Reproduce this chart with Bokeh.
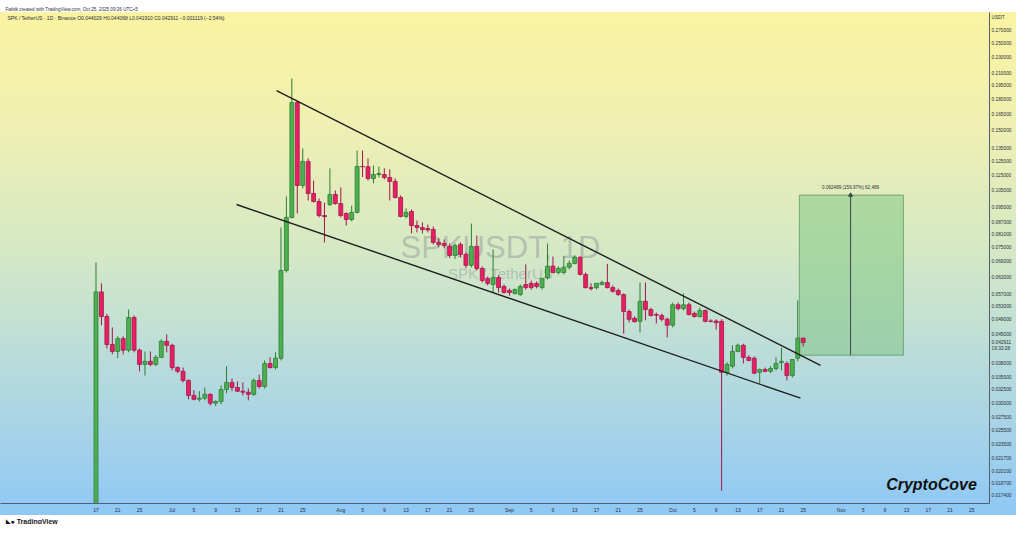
import pandas as pd
from bokeh.plotting import figure
from bokeh.models import (FixedTicker, PrintfTickFormatter, Label, ColumnDataSource, Range1d, Title)
from bokeh.embed import file_html
from bokeh.resources import INLINE

# ---------------- data ----------------
start_date = "2025-06-17"
opens = [0.0160, 0.0578, 0.0500, 0.0424, 0.0407, 0.0439, 0.0410, 0.0497, 0.0410, 0.0377,
         0.0384, 0.0377, 0.0393, 0.0432, 0.0422, 0.0370, 0.0362, 0.0343, 0.0314, 0.0307,
         0.0309, 0.0316, 0.0300, 0.0303, 0.0325, 0.0339, 0.0329, 0.0322, 0.0320, 0.0316,
         0.0343, 0.0331, 0.0379, 0.0370, 0.0391, 0.0656, 0.0897, 0.1766, 0.1083, 0.1248,
         0.1033, 0.0985, 0.0907, 0.0967, 0.1027, 0.0973, 0.0918, 0.0886, 0.0924, 0.1211,
         0.1209, 0.1128, 0.1155, 0.1155, 0.1135, 0.1109, 0.1009, 0.0902, 0.0929, 0.0855,
         0.0845, 0.0840, 0.0835, 0.0774, 0.0769, 0.0756, 0.0717, 0.0765, 0.0721, 0.0676,
         0.0756, 0.0664, 0.0626, 0.0604, 0.0629, 0.0597, 0.0583, 0.0573, 0.0569, 0.0604,
         0.0608, 0.0608, 0.0593, 0.0629, 0.0673, 0.0648, 0.0648, 0.0669, 0.0684, 0.0709,
         0.0641, 0.0593, 0.0593, 0.0604, 0.0611, 0.0593, 0.0583, 0.0569, 0.0515, 0.0495,
         0.0486, 0.0547, 0.0521, 0.0506, 0.0503, 0.0492, 0.0475, 0.0536, 0.0524, 0.0536,
         0.0509, 0.0500, 0.0518, 0.0487, 0.0487, 0.0486, 0.0359, 0.0373, 0.0407, 0.0422,
         0.0393, 0.0391, 0.0360, 0.0366, 0.0362, 0.0368, 0.0381, 0.0379, 0.0353, 0.0391,
         0.044029]
highs = [0.0688, 0.0608, 0.0508, 0.0469, 0.0445, 0.0445, 0.0521, 0.0503, 0.0414, 0.0407,
         0.0407, 0.0398, 0.0437, 0.0450, 0.0426, 0.0373, 0.0370, 0.0345, 0.0324, 0.0322,
         0.0329, 0.0318, 0.0305, 0.0333, 0.0373, 0.0347, 0.0341, 0.0339, 0.0327, 0.0347,
         0.0355, 0.0386, 0.0393, 0.0405, 0.0845, 0.1015, 0.2035, 0.1787, 0.1347, 0.1270,
         0.1115, 0.1003, 0.0979, 0.1198, 0.1051, 0.1070, 0.0924, 0.0961, 0.1331, 0.1331,
         0.1270, 0.1218, 0.1211, 0.1198, 0.1190, 0.1128, 0.1021, 0.0946, 0.0940, 0.0881,
         0.0871, 0.0860, 0.0850, 0.0793, 0.0788, 0.0769, 0.0769, 0.0774, 0.0730, 0.0865,
         0.0806, 0.0672, 0.0633, 0.0743, 0.0637, 0.0604, 0.0590, 0.0590, 0.0604, 0.0680,
         0.0618, 0.0615, 0.0626, 0.0769, 0.0712, 0.0672, 0.0713, 0.0696, 0.0717, 0.0713,
         0.0648, 0.0608, 0.0608, 0.0618, 0.0682, 0.0601, 0.0590, 0.0573, 0.0521, 0.0500,
         0.0611, 0.0611, 0.0527, 0.0512, 0.0509, 0.0497, 0.0543, 0.0543, 0.0573, 0.0543,
         0.0515, 0.0527, 0.0521, 0.0492, 0.0492, 0.0492, 0.0382, 0.0422, 0.0426, 0.0426,
         0.0398, 0.0395, 0.0368, 0.0370, 0.0373, 0.0393, 0.0416, 0.0384, 0.0388, 0.0550,
         0.044068]
lows = [0.0155, 0.0475, 0.0414, 0.0400, 0.0391, 0.0400, 0.0405, 0.0405, 0.0362, 0.0353,
        0.0373, 0.0373, 0.0392, 0.0405, 0.0364, 0.0358, 0.0339, 0.0307, 0.0305, 0.0303,
        0.0305, 0.0296, 0.0295, 0.0298, 0.0318, 0.0322, 0.0320, 0.0314, 0.0305, 0.0313,
        0.0327, 0.0327, 0.0368, 0.0366, 0.0386, 0.0648, 0.0892, 0.0918, 0.1064, 0.0991,
        0.0979, 0.0897, 0.0774, 0.0960, 0.0967, 0.0897, 0.0855, 0.0876, 0.0918, 0.1138,
        0.1115, 0.1096, 0.1135, 0.1122, 0.0991, 0.1003, 0.0897, 0.0892, 0.0816, 0.0821,
        0.0816, 0.0821, 0.0765, 0.0752, 0.0747, 0.0706, 0.0702, 0.0710, 0.0664, 0.0668,
        0.0656, 0.0611, 0.0601, 0.0576, 0.0576, 0.0573, 0.0565, 0.0569, 0.0565, 0.0586,
        0.0586, 0.0590, 0.0586, 0.0622, 0.0645, 0.0641, 0.0641, 0.0660, 0.0680, 0.0637,
        0.0590, 0.0583, 0.0586, 0.0601, 0.0590, 0.0576, 0.0565, 0.0452, 0.0483, 0.0483,
        0.0455, 0.0489, 0.0500, 0.0480, 0.0486, 0.0442, 0.0469, 0.0518, 0.0518, 0.0503,
        0.0497, 0.0497, 0.0483, 0.0483, 0.0463, 0.0179, 0.0353, 0.0368, 0.0405, 0.0379,
        0.0384, 0.0356, 0.0337, 0.0360, 0.0358, 0.0364, 0.0364, 0.0343, 0.0349, 0.0384,
        0.041910]
closes = [0.0578, 0.0500, 0.0424, 0.0407, 0.0439, 0.0410, 0.0497, 0.0410, 0.0377, 0.0384,
          0.0377, 0.0393, 0.0432, 0.0422, 0.0370, 0.0362, 0.0343, 0.0314, 0.0307, 0.0309,
          0.0316, 0.0300, 0.0303, 0.0325, 0.0339, 0.0329, 0.0322, 0.0320, 0.0316, 0.0343,
          0.0331, 0.0379, 0.0370, 0.0391, 0.0656, 0.0897, 0.1766, 0.1083, 0.1248, 0.1033,
          0.0985, 0.0907, 0.0901, 0.1027, 0.0973, 0.0907, 0.0886, 0.0924, 0.1211, 0.1209,
          0.1128, 0.1155, 0.1162, 0.1135, 0.1109, 0.1009, 0.0902, 0.0924, 0.0855, 0.0845,
          0.0835, 0.0833, 0.0774, 0.0765, 0.0760, 0.0717, 0.0760, 0.0721, 0.0676, 0.0756,
          0.0664, 0.0618, 0.0608, 0.0629, 0.0593, 0.0576, 0.0576, 0.0586, 0.0597, 0.0593,
          0.0593, 0.0597, 0.0626, 0.0673, 0.0648, 0.0664, 0.0669, 0.0684, 0.0709, 0.0641,
          0.0593, 0.0590, 0.0608, 0.0611, 0.0593, 0.0580, 0.0569, 0.0515, 0.0492, 0.0485,
          0.0547, 0.0521, 0.0503, 0.0504, 0.0492, 0.0475, 0.0536, 0.0524, 0.0536, 0.0506,
          0.0500, 0.0518, 0.0486, 0.0486, 0.0482, 0.0360, 0.0377, 0.0407, 0.0422, 0.0393,
          0.0386, 0.0358, 0.0366, 0.0362, 0.0368, 0.0379, 0.0384, 0.0353, 0.0388, 0.0440,
          0.042911]

upper_line_dates = ["2025-07-20 04:20", "2025-10-28 04:20"]
upper_line_prices = [0.1895, 0.0375]
lower_line_dates = ["2025-07-12 20:00", "2025-10-24 12:00"]
lower_line_prices = [0.0968, 0.0309]

target_start = "2025-10-24 07:00"
target_end = "2025-11-12 10:00"
target_mid = "2025-11-02 17:00"
target_low = 0.03981
target_high = 0.102299
target_text = "0.062489 (156.97%) 62,489"

x_tick_dates = ["2025-06-17", "2025-06-21", "2025-06-25", "2025-07-01", "2025-07-05", "2025-07-09",
                "2025-07-13", "2025-07-17", "2025-07-21", "2025-07-25", "2025-08-01", "2025-08-05",
                "2025-08-09", "2025-08-13", "2025-08-17", "2025-08-21", "2025-08-25", "2025-09-01",
                "2025-09-05", "2025-09-09", "2025-09-13", "2025-09-17", "2025-09-21", "2025-09-25",
                "2025-10-01", "2025-10-05", "2025-10-09", "2025-10-13", "2025-10-17", "2025-10-21",
                "2025-10-25", "2025-11-01", "2025-11-05", "2025-11-09", "2025-11-13", "2025-11-17",
                "2025-11-21", "2025-11-25"]
x_tick_labels = ["17", "21", "25", "Jul", "5", "9", "13", "17", "21", "25", "Aug", "5", "9", "13",
                 "17", "21", "25", "Sep", "5", "9", "13", "17", "21", "25", "Oct", "5", "9", "13",
                 "17", "21", "25", "Nov", "5", "9", "13", "17", "21", "25"]
y_ticks = [0.27, 0.25, 0.23, 0.21, 0.195, 0.18, 0.165, 0.15, 0.135, 0.125, 0.115, 0.105, 0.095,
           0.087, 0.081, 0.075, 0.069, 0.063, 0.057, 0.053, 0.049, 0.045, 0.038, 0.035, 0.0325,
           0.03, 0.0275, 0.0255, 0.0235, 0.0217, 0.0201, 0.0187, 0.0174]
# extra right-scale tags: currency tag, last price and bar countdown
scale_tag_prices = [0.2915, 0.042911, 0.04140]
scale_tag_texts = ["USDT", "0.042911", "19:33:28"]

header_text = ("SPK / TetherUS \u00b7 1D \u00b7 Binance   O0.044029  H0.044068  L0.041910  "
               "C0.042911  \u22120.001119 (\u22122.54%)")
created_text = "Fatbik created with TradingView.com, Oct 25, 2025 09:26 UTC+5"
brand_text = "\u25e3\u25cf TradingView"

# ---------------- styling ----------------
UP_FILL, UP_LINE = "#4caf50", "#2e7d32"
DN_FILL, DN_LINE = "#e91e63", "#a3164a"
FONT = "Liberation Sans"
DAY_MS = 86400000.0

def ms(s):
    return pd.Timestamp(s).value / 1e6

dates = pd.date_range(start_date, periods=len(opens), freq="D")
up = [c >= o for o, c in zip(opens, closes)]
src = ColumnDataSource(dict(
    date=dates, high=highs, low=lows,
    top=[max(o, c) for o, c in zip(opens, closes)],
    bottom=[min(o, c) for o, c in zip(opens, closes)],
    fill=[UP_FILL if u else DN_FILL for u in up],
    line=[UP_LINE if u else DN_LINE for u in up],
))

t0 = ms(start_date)
x_start = t0 - 17.555 * DAY_MS
x_end = t0 + 164.246 * DAY_MS

gradient = ("linear-gradient(to bottom, #ffffff 0px, #ffffff 12px, #faf3a1 12px, #eff0b2 125px, "
            "#d4e8c6 255px, #b3d9df 385px, #93caf3 500px, #8fc8f5 515px, #ffffff 515px)")

p = figure(width=1016, height=524, x_axis_type="datetime", y_axis_type="log",
           x_range=Range1d(x_start, x_end), y_range=Range1d(0.016603, 0.30024),
           y_axis_location="right", output_backend="svg", toolbar_location=None,
           min_border_left=0, min_border_right=27, min_border_top=12, min_border_bottom=21,
           background_fill_alpha=0, border_fill_alpha=0, outline_line_color=None,
           styles={"background": gradient})
p.grid.visible = False

# top credit line as the plot title
p.title.text = created_text
p.title.align = "left"
p.title.offset = 5
p.title.standoff = 0
p.title.text_font = FONT
p.title.text_font_size = "4.6px"
p.title.text_font_style = "normal"
p.title.text_color = "#2a2e39"
p.title.vertical_align = "middle"

# bottom brand line
p.add_layout(Title(text=brand_text, align="left", offset=5, standoff=0, text_font=FONT,
                   text_font_size="7px", text_font_style="bold", text_color="#131722"), "below")

# axes
p.xaxis.ticker = FixedTicker(ticks=[ms(d) for d in x_tick_dates])
p.xaxis.major_label_overrides = {ms(d): lab for d, lab in zip(x_tick_dates, x_tick_labels)}
p.yaxis.ticker = FixedTicker(ticks=y_ticks + scale_tag_prices)
p.yaxis.formatter = PrintfTickFormatter(format="%.6f")
p.yaxis.major_label_overrides = {v: t for v, t in zip(scale_tag_prices, scale_tag_texts)}
for ax in (p.xaxis[0], p.yaxis[0]):
    ax.major_tick_line_color = None
    ax.minor_tick_line_color = None
    ax.major_tick_out = 0
    ax.major_tick_in = 0
    ax.minor_tick_out = 0
    ax.minor_tick_in = 0
    ax.axis_label_standoff = 0
    ax.axis_line_color = "#4f6070"
    ax.axis_line_width = 1
    ax.major_label_text_font = FONT
    ax.major_label_text_color = "#2a2e39"
p.xaxis.major_label_text_font_size = "5px"
p.yaxis.major_label_text_font_size = "4.8px"
p.xaxis.major_label_standoff = 3
p.yaxis.major_label_standoff = 2

# watermark
p.add_layout(Label(x=500, y=256, x_units="screen", y_units="screen", text="SPKUSDT, 1D",
                   text_font=FONT, text_font_size="31px", text_color="#8a8f94", text_alpha=0.45,
                   text_align="center", text_baseline="middle", level="underlay"))
p.add_layout(Label(x=500, y=230, x_units="screen", y_units="screen", text="SPK / TetherUS",
                   text_font=FONT, text_font_size="15px", text_color="#8a8f94", text_alpha=0.45,
                   text_align="center", text_baseline="middle", level="underlay"))

# target box
p.quad(left=[pd.Timestamp(target_start)], right=[pd.Timestamp(target_end)],
       bottom=[target_low], top=[target_high], fill_color="#7cc47f", fill_alpha=0.5,
       line_color="#5f9a62", line_alpha=0.8, line_width=1)
p.segment(x0=[pd.Timestamp(target_mid)], y0=[target_low], x1=[pd.Timestamp(target_mid)],
          y1=[target_high], line_color="#37474f", line_width=1)
p.scatter(x=[pd.Timestamp(target_mid)], y=[target_high], marker="triangle", size=4,
          fill_color="#37474f", line_color="#37474f")
p.add_layout(Label(x=ms(target_mid), y=target_high, text=target_text,
                   text_font=FONT, text_font_size="4.6px", text_color="#2a2e39",
                   text_align="center", text_baseline="bottom", y_offset=5))

# candles
bar_w = 0.72 * DAY_MS
p.segment(x0="date", y0="low", x1="date", y1="high", line_color="line", line_width=1, source=src)
p.vbar(x="date", width=bar_w, top="top", bottom="bottom", fill_color="fill",
       line_color="line", line_width=0.8, source=src)

# trend lines
p.line(x=pd.to_datetime(upper_line_dates), y=upper_line_prices, line_color="#1e1e1e", line_width=1.4)
p.line(x=pd.to_datetime(lower_line_dates), y=lower_line_prices, line_color="#1e1e1e", line_width=1.4)

# texts inside the frame (screen units: x from frame left, y up from frame bottom)
p.add_layout(Label(x=7, y=486, x_units="screen", y_units="screen", text=header_text,
                   text_font=FONT, text_font_size="5px", text_color="#2a2e39",
                   text_baseline="middle"))
p.add_layout(Label(x=931, y=19, x_units="screen", y_units="screen", text="CryptoCove",
                   text_font=FONT, text_font_size="16px", text_font_style="bold italic",
                   text_color="#111111", text_align="center", text_baseline="middle"))

open("out.html", "w").write(file_html(p, INLINE))
